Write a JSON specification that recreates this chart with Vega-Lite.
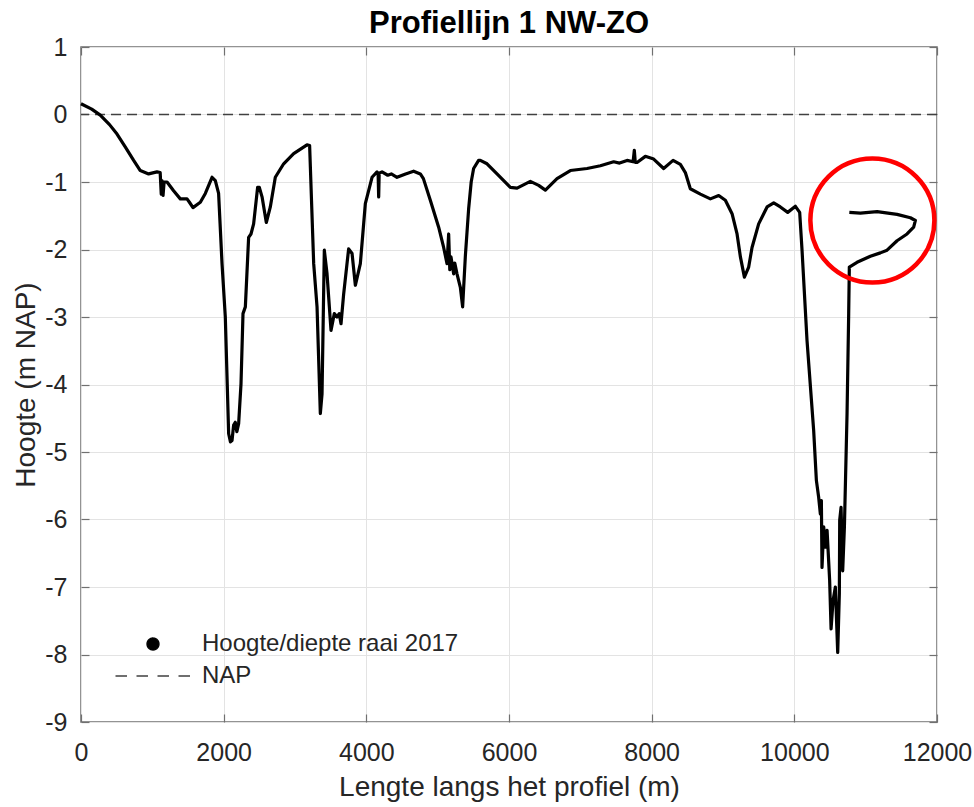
{
  "$schema": "https://vega.github.io/schema/vega-lite/v6.json",
  "width": 856,
  "height": 675,
  "autosize": {"type": "none"},
  "padding": {"left": 81, "top": 47, "right": 37, "bottom": 85},
  "title": {"text": "Profiellijn 1 NW-ZO", "fontSize": 31, "fontWeight": "bold", "font": "Liberation Sans", "color": "#000000", "offset": -5, "anchor": "middle"},
  "config": {
    "font": "Liberation Sans",
    "view": {"stroke": "#707070", "strokeWidth": 1.5},
    "axis": {"labelFlush": false, "labelOverlap": false, "labelBound": false}
  },
  "datasets": {
    "profile": [
      {"i":0,"x":0,"y":0.16},{"i":1,"x":150,"y":0.08},{"i":2,"x":270,"y":-0.01},{"i":3,"x":400,"y":-0.15},{"i":4,"x":505,"y":-0.29},{"i":5,"x":620,"y":-0.48},{"i":6,"x":738,"y":-0.68},{"i":7,"x":831,"y":-0.83},{"i":8,"x":948,"y":-0.88},{"i":9,"x":1065,"y":-0.85},
      {"i":10,"x":1110,"y":-0.86},{"i":11,"x":1125,"y":-1.18},{"i":12,"x":1135,"y":-0.98},{"i":13,"x":1150,"y":-1.2},{"i":14,"x":1165,"y":-1.0},{"i":15,"x":1206,"y":-1.0},{"i":16,"x":1298,"y":-1.13},{"i":17,"x":1392,"y":-1.25},{"i":18,"x":1486,"y":-1.25},{"i":19,"x":1520,"y":-1.3},
      {"i":20,"x":1570,"y":-1.38},{"i":21,"x":1673,"y":-1.30},{"i":22,"x":1743,"y":-1.17},{"i":23,"x":1837,"y":-0.93},{"i":24,"x":1883,"y":-0.98},{"i":25,"x":1929,"y":-1.17},{"i":26,"x":1977,"y":-2.21},{"i":27,"x":2023,"y":-3.0},{"i":28,"x":2070,"y":-4.73},{"i":29,"x":2095,"y":-4.85},
      {"i":30,"x":2117,"y":-4.83},{"i":31,"x":2140,"y":-4.6},{"i":32,"x":2163,"y":-4.56},{"i":33,"x":2185,"y":-4.7},{"i":34,"x":2210,"y":-4.58},{"i":35,"x":2243,"y":-3.99},{"i":36,"x":2271,"y":-2.95},{"i":37,"x":2304,"y":-2.85},{"i":38,"x":2350,"y":-1.82},{"i":39,"x":2383,"y":-1.77},
      {"i":40,"x":2420,"y":-1.62},{"i":41,"x":2476,"y":-1.08},{"i":42,"x":2500,"y":-1.08},{"i":43,"x":2538,"y":-1.22},{"i":44,"x":2598,"y":-1.60},{"i":45,"x":2654,"y":-1.37},{"i":46,"x":2724,"y":-0.93},{"i":47,"x":2841,"y":-0.73},{"i":48,"x":2981,"y":-0.58},{"i":49,"x":3168,"y":-0.45},
      {"i":50,"x":3205,"y":-0.46},{"i":51,"x":3262,"y":-2.21},{"i":52,"x":3309,"y":-2.85},{"i":53,"x":3355,"y":-4.43},{"i":54,"x":3379,"y":-4.14},{"i":55,"x":3411,"y":-2.01},{"i":56,"x":3449,"y":-2.36},{"i":57,"x":3505,"y":-3.2},{"i":58,"x":3551,"y":-2.95},{"i":59,"x":3589,"y":-3.0},
      {"i":60,"x":3620,"y":-2.95},{"i":61,"x":3645,"y":-3.1},{"i":62,"x":3682,"y":-2.66},{"i":63,"x":3752,"y":-1.99},{"i":64,"x":3800,"y":-2.06},{"i":65,"x":3846,"y":-2.53},{"i":66,"x":3916,"y":-2.21},{"i":67,"x":3986,"y":-1.32},{"i":68,"x":4080,"y":-0.93},{"i":69,"x":4150,"y":-0.85},
      {"i":70,"x":4165,"y":-0.87},{"i":71,"x":4173,"y":-1.22},{"i":72,"x":4180,"y":-0.87},{"i":73,"x":4220,"y":-0.85},{"i":74,"x":4300,"y":-0.90},{"i":75,"x":4350,"y":-0.88},{"i":76,"x":4430,"y":-0.93},{"i":77,"x":4550,"y":-0.88},{"i":78,"x":4663,"y":-0.84},{"i":79,"x":4757,"y":-0.88},
      {"i":80,"x":4800,"y":-0.95},{"i":81,"x":4897,"y":-1.27},{"i":82,"x":5014,"y":-1.67},{"i":83,"x":5084,"y":-1.97},{"i":84,"x":5131,"y":-2.21},{"i":85,"x":5154,"y":-1.77},{"i":86,"x":5170,"y":-2.3},{"i":87,"x":5187,"y":-2.11},{"i":88,"x":5224,"y":-2.36},{"i":89,"x":5240,"y":-2.2},
      {"i":90,"x":5271,"y":-2.36},{"i":91,"x":5318,"y":-2.56},{"i":92,"x":5350,"y":-2.85},{"i":93,"x":5388,"y":-2.1},{"i":94,"x":5434,"y":-1.4},{"i":95,"x":5470,"y":-1.0},{"i":96,"x":5504,"y":-0.8},{"i":97,"x":5574,"y":-0.68},{"i":98,"x":5598,"y":-0.68},{"i":99,"x":5692,"y":-0.73},
      {"i":100,"x":5832,"y":-0.88},{"i":101,"x":6019,"y":-1.08},{"i":102,"x":6113,"y":-1.09},{"i":103,"x":6299,"y":-0.99},{"i":104,"x":6416,"y":-1.05},{"i":105,"x":6510,"y":-1.12},{"i":106,"x":6673,"y":-0.95},{"i":107,"x":6860,"y":-0.83},{"i":108,"x":7094,"y":-0.80},{"i":109,"x":7281,"y":-0.76},
      {"i":110,"x":7467,"y":-0.70},{"i":111,"x":7550,"y":-0.72},{"i":112,"x":7655,"y":-0.68},{"i":113,"x":7740,"y":-0.70},{"i":114,"x":7757,"y":-0.53},{"i":115,"x":7770,"y":-0.71},{"i":116,"x":7795,"y":-0.71},{"i":117,"x":7911,"y":-0.62},{"i":118,"x":8028,"y":-0.66},{"i":119,"x":8168,"y":-0.80},
      {"i":120,"x":8300,"y":-0.68},{"i":121,"x":8402,"y":-0.74},{"i":122,"x":8472,"y":-0.86},{"i":123,"x":8542,"y":-1.10},{"i":124,"x":8683,"y":-1.18},{"i":125,"x":8823,"y":-1.25},{"i":126,"x":8940,"y":-1.2},{"i":127,"x":9033,"y":-1.27},{"i":128,"x":9127,"y":-1.47},{"i":129,"x":9197,"y":-1.77},
      {"i":130,"x":9244,"y":-2.11},{"i":131,"x":9300,"y":-2.41},{"i":132,"x":9360,"y":-2.26},{"i":133,"x":9407,"y":-1.97},{"i":134,"x":9500,"y":-1.62},{"i":135,"x":9618,"y":-1.37},{"i":136,"x":9711,"y":-1.31},{"i":137,"x":9804,"y":-1.37},{"i":138,"x":9907,"y":-1.45},{"i":139,"x":10015,"y":-1.36},
      {"i":140,"x":10075,"y":-1.45},{"i":141,"x":10108,"y":-2.01},{"i":142,"x":10178,"y":-3.35},{"i":143,"x":10271,"y":-4.68},{"i":144,"x":10309,"y":-5.42},{"i":145,"x":10341,"y":-5.67},{"i":146,"x":10365,"y":-5.92},{"i":147,"x":10379,"y":-5.72},{"i":148,"x":10388,"y":-6.71},{"i":149,"x":10412,"y":-6.11},
      {"i":150,"x":10435,"y":-6.41},{"i":151,"x":10459,"y":-6.16},{"i":152,"x":10495,"y":-6.90},{"i":153,"x":10515,"y":-7.62},{"i":154,"x":10543,"y":-7.2},{"i":155,"x":10575,"y":-7.0},{"i":156,"x":10608,"y":-7.97},{"i":157,"x":10631,"y":-7.10},{"i":158,"x":10636,"y":-6.01},{"i":159,"x":10655,"y":-5.82},
      {"i":160,"x":10678,"y":-6.76},{"i":161,"x":10702,"y":-6.11},{"i":162,"x":10739,"y":-4.43},{"i":163,"x":10762,"y":-2.95},{"i":164,"x":10771,"y":-2.26},{"i":165,"x":10879,"y":-2.19},{"i":166,"x":11066,"y":-2.10},{"i":167,"x":11206,"y":-2.05},{"i":168,"x":11300,"y":-2.01},{"i":169,"x":11440,"y":-1.87},
      {"i":170,"x":11580,"y":-1.77},{"i":171,"x":11673,"y":-1.67},{"i":172,"x":11697,"y":-1.57},{"i":173,"x":11627,"y":-1.53},{"i":174,"x":11440,"y":-1.48},{"i":175,"x":11160,"y":-1.44},{"i":176,"x":10926,"y":-1.46},{"i":177,"x":10771,"y":-1.45}
    ],
    "annot": [{"x": 11094, "y": -1.57}],
    "nap": [{"hoogte": 0}]
  },
  "layer": [
    {
      "data": {"name": "nap"},
      "mark": {"type": "rule", "strokeDash": [10, 6], "strokeWidth": 1.3},
      "encoding": {
        "y": {"field": "hoogte", "type": "quantitative", "axis": null},
        "color": {"datum": "NAP", "type": "nominal"}
      }
    },
    {
      "data": {"name": "profile"},
      "mark": {"type": "line", "strokeWidth": 3.2, "strokeJoin": "round"},
      "encoding": {
        "x": {
          "field": "x", "type": "quantitative",
          "scale": {"domain": [0, 12000], "nice": false, "zero": false},
          "axis": {
            "orient": "bottom", "values": [0, 2000, 4000, 6000, 8000, 10000, 12000], "labelExpr": "toString(datum.value)",
            "grid": true, "gridColor": "#e3e3e3", "gridWidth": 1,
            "domain": false, "ticks": true, "tickSize": -8, "tickColor": "#707070", "tickWidth": 1.2,
            "labelFontSize": 25, "labelColor": "#262626", "labelPadding": 26,
            "title": "Lengte langs het profiel (m)", "titleFontSize": 28, "titleFontWeight": "normal", "titleColor": "#262626", "titlePadding": 8
          }
        },
        "y": {
          "field": "y", "type": "quantitative",
          "scale": {"domain": [-9, 1], "nice": false, "zero": false},
          "axis": {
            "orient": "left", "values": [-9, -8, -7, -6, -5, -4, -3, -2, -1, 0, 1], "labelExpr": "toString(datum.value)",
            "grid": true, "gridColor": "#e3e3e3", "gridWidth": 1,
            "domain": false, "ticks": true, "tickSize": -8, "tickColor": "#707070", "tickWidth": 1.2,
            "labelFontSize": 25, "labelColor": "#262626", "labelPadding": 22,
            "title": "Hoogte (m NAP)", "titleFontSize": 28, "titleFontWeight": "normal", "titleColor": "#262626", "titlePadding": 4
          }
        },
        "order": {"field": "i", "type": "quantitative"},
        "color": {
          "datum": "Hoogte/diepte raai 2017", "type": "nominal",
          "scale": {"domain": ["Hoogte/diepte raai 2017", "NAP"], "range": ["#000000", "#404040"]},
          "legend": {
            "orient": "none", "legendX": 60, "legendY": 585, "padding": 0, "title": null,
            "labelFontSize": 24, "labelColor": "#262626", "labelOffset": 37, "labelLimit": 500,
            "rowPadding": 8, "symbolSize": 400, "symbolStrokeWidth": 1.3,
            "encode": {
              "symbols": {
                "update": {
                  "shape": {"signal": "datum.value === 'NAP' ? 'M-3.75,0L3.75,0' : 'M-0.6,0A0.6,0.6,0,1,1,0.6,0A0.6,0.6,0,1,1,-0.6,0Z'"},
                  "fill": {"signal": "datum.value === 'NAP' ? 'transparent' : '#000000'"},
                  "stroke": {"signal": "datum.value === 'NAP' ? '#404040' : '#000000'"},
                  "strokeDash": {"signal": "datum.value === 'NAP' ? [11.5, 9.5] : [1, 0]"},
                  "opacity": {"value": 1}
                }
              }
            }
          }
        }
      }
    },
    {
      "data": {"name": "annot"},
      "mark": {"type": "point", "shape": "circle", "filled": false, "size": 15376, "stroke": "#ff0000", "strokeWidth": 4.5, "opacity": 1},
      "encoding": {
        "x": {
          "field": "x", "type": "quantitative",
          "axis": {"orient": "top", "values": [0, 2000, 4000, 6000, 8000, 10000, 12000], "labels": false, "title": null, "grid": false, "domain": false, "ticks": true, "tickSize": -8, "tickColor": "#707070", "tickWidth": 1.2}
        },
        "y": {
          "field": "y", "type": "quantitative",
          "axis": {"orient": "right", "values": [-9, -8, -7, -6, -5, -4, -3, -2, -1, 0, 1], "labels": false, "title": null, "grid": false, "domain": false, "ticks": true, "tickSize": -8, "tickColor": "#707070", "tickWidth": 1.2}
        }
      }
    }
  ],
  "resolve": {"axis": {"x": "independent", "y": "independent"}}
}
